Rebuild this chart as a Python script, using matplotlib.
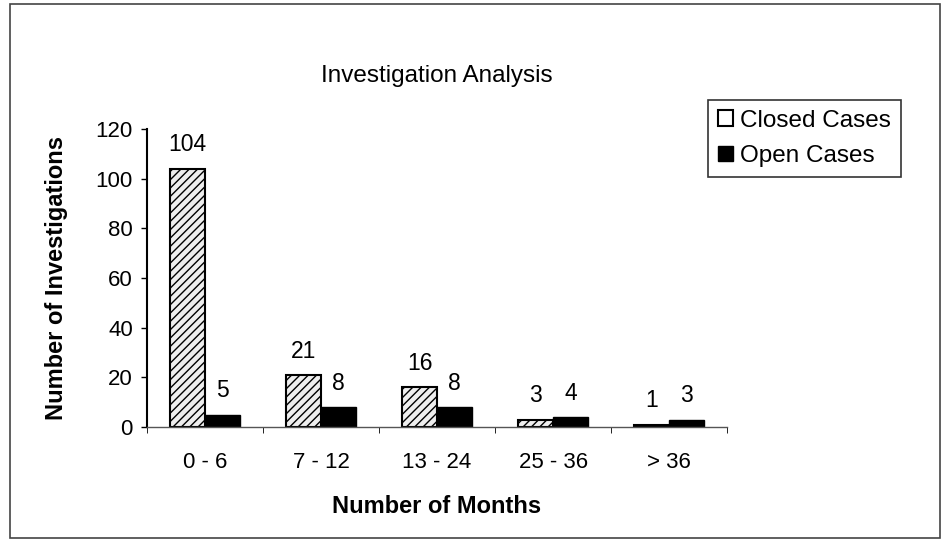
import numpy as np
import matplotlib.pyplot as plt
from matplotlib.patches import Rectangle

categories = ['0 - 6', '7 - 12', '13 - 24', '25 - 36', '> 36']
closed_cases = [104, 21, 16, 3, 1]
open_cases = [5, 8, 8, 4, 3]

plt.rcParams['font.family'] = ['Liberation Sans', 'DejaVu Sans']
plt.rcParams['hatch.color'] = '#a8a8a8'
plt.rcParams['hatch.linewidth'] = 1.0

fig = plt.figure(figsize=(9.47, 5.49), dpi=100)
ax = fig.add_axes([0.155, 0.222, 0.613, 0.543])

x = np.arange(len(categories))
w = 0.3
b1 = ax.bar(x - w / 2, closed_cases, w, color='#eeeeee', edgecolor='black',
            linewidth=1.5, hatch='////', label='Closed Cases')
b2 = ax.bar(x + w / 2, open_cases, w, color='black', edgecolor='black',
            linewidth=1.0, label='Open Cases')

for rect, v in zip(b1, closed_cases):
    ax.text(rect.get_x() + rect.get_width() / 2, v + 5, str(v),
            ha='center', va='bottom', fontsize=16.5)
for rect, v in zip(b2, open_cases):
    ax.text(rect.get_x() + rect.get_width() / 2, v + 5, str(v),
            ha='center', va='bottom', fontsize=16.5)

ax.set_xlim(-0.5, len(categories) - 0.5)
ax.set_ylim(0, 120)
ax.set_yticks(range(0, 121, 20))
ax.set_xticks(x)
ax.set_xticklabels(categories, fontsize=16)
ax.tick_params(axis='y', labelsize=16, direction='out', length=4, width=1, pad=6)
ax.tick_params(axis='x', length=0, pad=18)
ax.set_xticks(np.arange(-0.5, len(categories)), minor=True)
ax.tick_params(axis='x', which='minor', length=4, direction='out')

for s in ['top', 'right']:
    ax.spines[s].set_visible(False)
ax.spines['left'].set_linewidth(1.5)
ax.spines['bottom'].set_linewidth(1.0)
ax.spines['bottom'].set_color('#555555')

ax.set_ylabel('Number of Investigations', fontsize=17, fontweight='bold', labelpad=20)
ax.set_xlabel('Number of Months', fontsize=17, fontweight='bold', labelpad=16)
fig.text(0.461, 0.862, 'Investigation Analysis', ha='center', va='center', fontsize=17.5)

leg = ax.legend(loc='upper left', bbox_to_anchor=(0.748, 0.818), bbox_transform=fig.transFigure,
                fontsize=17.5, frameon=True, fancybox=False, edgecolor='black',
                handlelength=0.6, handleheight=0.6, handletextpad=0.3,
                borderpad=0.4, labelspacing=0.55, borderaxespad=0)
leg.get_frame().set_linewidth(1.2)
leg.legend_handles[0].set_hatch('')
leg.legend_handles[0].set_facecolor('white')

fig.patches.append(Rectangle((0.011, 0.02), 0.982, 0.972, transform=fig.transFigure,
                             fill=False, edgecolor='#444444', linewidth=1.2))

fig.savefig('out.png', dpi=100)
